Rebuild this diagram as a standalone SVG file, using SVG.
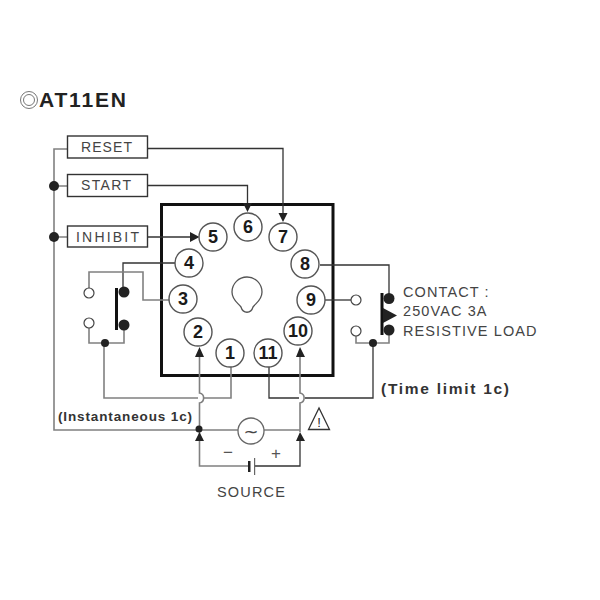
<svg xmlns="http://www.w3.org/2000/svg" width="600" height="600" viewBox="0 0 600 600">
<style>
.w{fill:none;stroke:#333;stroke-width:1.3}
.g{fill:none;stroke:#808080;stroke-width:1.6}
.k{fill:none;stroke:#111;stroke-width:3}
.pin{fill:#fff;stroke:#555;stroke-width:1.4}
.pn{font:bold 18px "Liberation Sans",Arial,sans-serif;fill:#1a1a1a;text-anchor:middle}
.box{fill:#fff;stroke:#333;stroke-width:1.4}
.bl{font:14px "Liberation Sans",Arial,sans-serif;fill:#444}
.t{font:14.5px "Liberation Sans",Arial,sans-serif;fill:#444;letter-spacing:1.1px}
.b{font-family:"Liberation Sans",Arial,sans-serif;font-weight:bold;fill:#333}
.d{fill:#222}
.o{fill:#fff;stroke:#444;stroke-width:1.2}
</style>
<rect width="600" height="600" fill="#fff"/>
<g id="title">
<circle cx="29" cy="100" r="8.5" fill="none" stroke="#777" stroke-width="1"/>
<circle cx="29" cy="100" r="5.5" fill="none" stroke="#777" stroke-width="1"/>
<text x="39" y="107" font-family="Liberation Sans,Arial,sans-serif" font-weight="bold" font-size="21" fill="#222" textLength="87">AT11EN</text>
</g>
<g id="relay">
<rect x="161.500" y="204.500" width="171.500" height="171" fill="none" stroke="#111" stroke-width="3"/>
<path d="M241 307C238 303 232 300 232 292A15 15 0 0 1 262 292C262 300 256 303 253 307C251 314 243 314 241 307Z" fill="#fff" stroke="#555" stroke-width="1.300"/>
</g>
<g id="connectors">
<path class="g" d="M67 149H54V430H238"/>
<path class="g" d="M54 186H67M54 237H67"/>
<path class="w" d="M147 148.500H283V218"/>
<path class="w" d="M147 185.500H247.500V205"/>
<path class="w" d="M147 237H192"/>
<path class="w" d="M175 263H123V292"/>
<path class="g" d="M170 300H143V272H89V288"/>
<path class="g" d="M89 328V343H124V330"/>
<path class="g" d="M104 343V398H198M204 398H231V367"/>
<path class="g" d="M199.500 356V393C205 394 205 402 199.500 403V466H248"/>
<path class="g" d="M264 430H300"/>
<path class="g" d="M300 356V393C305.500 394 305.500 402 300 403V432"/>
<path class="w" d="M269 367V398H299M305 398H373V343"/>
<path class="g" d="M356 336V343H389V335"/>
<path class="w" d="M320 265H389V294"/>
<path class="w" d="M325 300H351"/>
<path class="w" d="M254 466H300V441"/>
<rect x="248" y="461" width="2.500" height="11" fill="#222"/>
<rect x="254" y="458" width="1.200" height="17" fill="#666"/>
<path class="k" d="M116.500 288V330"/>
<path class="k" d="M382 293V335"/>
<path class="d" d="M199.500 237L190 232V242ZM247.500 212L243 203H252ZM283 222L278.500 213H287.500ZM199.500 347L195 357H204ZM300 347L296 357H305ZM199.500 432L195 441H204ZM300 432L296 441H305ZM383 308L397 315.500L383 323Z"/>
<circle class="d" cx="54" cy="186" r="5"/>
<circle class="d" cx="54" cy="237" r="5"/>
<circle class="d" cx="124" cy="292" r="5.500"/>
<circle class="d" cx="124" cy="325" r="5.500"/>
<circle class="d" cx="105" cy="343" r="4"/>
<circle class="d" cx="199" cy="429" r="3.500"/>
<circle class="d" cx="373" cy="343" r="4"/>
<circle class="d" cx="389" cy="298.500" r="5.500"/>
<circle class="d" cx="389" cy="330" r="5.500"/>
<circle class="o" cx="89" cy="293" r="5"/>
<circle class="o" cx="89" cy="323" r="5"/>
<circle class="o" cx="356" cy="300" r="5"/>
<circle class="o" cx="356" cy="331" r="5"/>
</g>
<g id="reset"><rect class="box" x="67.500" y="136" width="80" height="22"/><text class="bl" x="81" y="152" textLength="51">RESET</text></g>
<g id="start"><rect class="box" x="67.500" y="174.500" width="80" height="22"/><text class="bl" x="81" y="190" textLength="50">START</text></g>
<g id="inhibit"><rect class="box" x="67.500" y="226" width="80" height="21"/><text class="bl" x="76" y="242" textLength="63">INHIBIT</text></g>
<g id="pin5"><circle class="pin" cx="213" cy="237" r="14"/><text class="pn" x="213" y="243">5</text></g>
<g id="pin6"><circle class="pin" cx="248" cy="227" r="14"/><text class="pn" x="248" y="233">6</text></g>
<g id="pin7"><circle class="pin" cx="283" cy="237" r="14"/><text class="pn" x="283" y="243">7</text></g>
<g id="pin4"><circle class="pin" cx="189" cy="263" r="14"/><text class="pn" x="189" y="269">4</text></g>
<g id="pin8"><circle class="pin" cx="305" cy="264" r="14"/><text class="pn" x="305" y="270">8</text></g>
<g id="pin3"><circle class="pin" cx="183" cy="299" r="14"/><text class="pn" x="183" y="305">3</text></g>
<g id="pin9"><circle class="pin" cx="311" cy="300" r="14"/><text class="pn" x="311" y="306">9</text></g>
<g id="pin2"><circle class="pin" cx="198" cy="332" r="14"/><text class="pn" x="198" y="338">2</text></g>
<g id="pin10"><circle class="pin" cx="298" cy="331" r="14"/><text class="pn" x="298" y="337">10</text></g>
<g id="pin1"><circle class="pin" cx="230" cy="353" r="14"/><text class="pn" x="230" y="359">1</text></g>
<g id="pin11"><circle class="pin" cx="268" cy="353" r="14"/><text class="pn" x="268" y="359">11</text></g>
<g id="ac"><circle cx="251" cy="431" r="13" fill="#fff" stroke="#666" stroke-width="1.300"/><text x="251" y="438" font-family="DejaVu Sans,sans-serif" font-size="18" fill="#444" text-anchor="middle">~</text></g>
<g id="warning"><path d="M319 408L308.500 429.500H329.500Z" fill="#fff" stroke="#333" stroke-width="1.300"/><text x="319" y="427" font-family="Liberation Sans,sans-serif" font-size="13" fill="#222" text-anchor="middle">!</text></g>
<g id="labels">
<text class="t" x="403" y="297">CONTACT :</text>
<text class="t" x="403" y="316">250VAC 3A</text>
<text class="t" x="403" y="336">RESISTIVE LOAD</text>
<text class="b" x="381" y="394" font-size="15.500" textLength="128">(Time limit 1c)</text>
<text class="b" x="58" y="421" font-size="13.500" textLength="134">(Instantaneous 1c)</text>
<text class="t" x="217" y="497" textLength="69">SOURCE</text>
<text x="228" y="458" font-family="Liberation Sans,sans-serif" font-size="17" fill="#555" text-anchor="middle">−</text>
<text x="276" y="459" font-family="Liberation Sans,sans-serif" font-size="17" fill="#555" text-anchor="middle">+</text>
</g>
</svg>
